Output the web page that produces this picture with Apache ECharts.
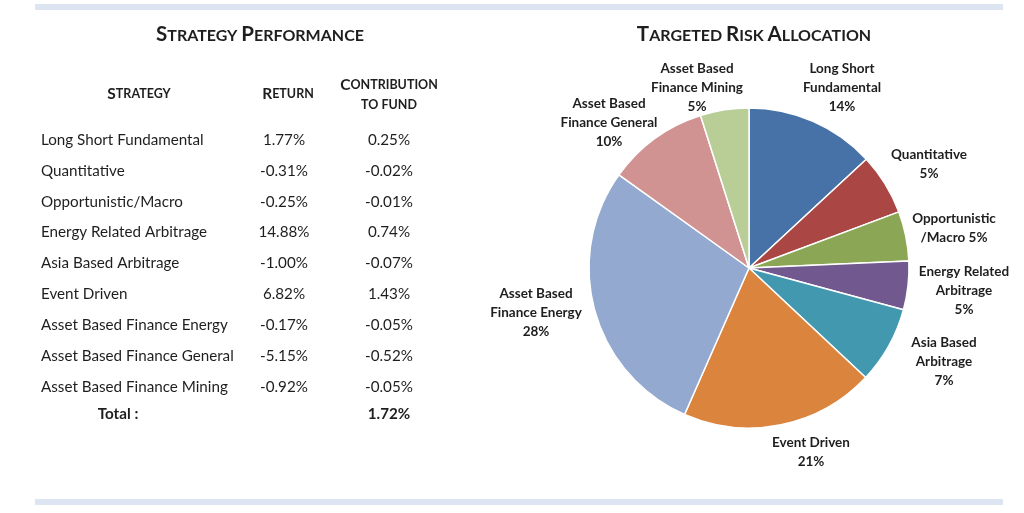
<!DOCTYPE html>
<html><head><meta charset="utf-8">
<script src="https://cdn.jsdelivr.net/npm/echarts@6/dist/echarts.min.js"></script>
<style>html,body{margin:0;background:#fff}#c{width:1024px;height:513px}</style>
</head><body><div id="c"></div>
<script>
// ---- data ----
const strategies = ['Long Short Fundamental','Quantitative','Opportunistic/Macro','Energy Related Arbitrage','Asia Based Arbitrage','Event Driven','Asset Based Finance Energy','Asset Based Finance General','Asset Based Finance Mining'];
const returnsPct = ['1.77%','-0.31%','-0.25%','14.88%','-1.00%','6.82%','-0.17%','-5.15%','-0.92%'];
const contributionPct = ['0.25%','-0.02%','-0.01%','0.74%','-0.07%','1.43%','-0.05%','-0.52%','-0.05%'];
const totalContribution = '1.72%';
// pie slice shares as drawn, and the percentages printed on the labels
const allocationShare = [13.1, 6.2, 5.0, 4.9, 7.8, 19.6, 28.3, 10.2, 4.9];
const allocationPrinted = ['14%','5%','5%','5%','7%','21%','28%','10%','5%'];
const pieLabelNames = ['Long Short\nFundamental','Quantitative','Opportunistic\n/Macro','Energy Related\nArbitrage','Asia Based\nArbitrage','Event Driven','Asset Based\nFinance Energy','Asset Based\nFinance General','Asset Based\nFinance Mining'];
const sliceColors = ['#4672A8','#AA4744','#8BA654','#71588F','#4298AF','#DB843D','#93A9CF','#D19392','#B9CD96'];

// ---- layout ----
const FONT = 'Lato, "Open Sans", sans-serif';
const TXT = '#1e1e1e';
const labelPos = [[842,88],[929,164],[954,228],[964,291],[944,362],[811,452],[536,313],[609,123],[697,88]];
const inlineSameLine = [false,false,true,false,false,false,false,false,false];

function smallCaps(str){
  const runs=[];
  for (const ch of str){
    const isBig = ch!==' ' && ch===ch.toUpperCase() && ch!==ch.toLowerCase();
    const t = isBig?'b':'s';
    const c = ch.toUpperCase();
    if (runs.length && runs[runs.length-1].t===t) runs[runs.length-1].s+=c;
    else runs.push({t, s:c});
  }
  return runs.map(r=>'{'+r.t+'|'+r.s+'}').join('');
}
function scText(str, x, y, big, small){
  return {type:'text', x, y, silent:true, style:{
    text: smallCaps(str), fill: TXT, align:'center', textAlign:'center', verticalAlign:'middle', textVerticalAlign:'middle',
    rich:{ b:{fontFamily:FONT, fontWeight:'bold', fontSize:big, fill:TXT, color:TXT, lineHeight:big+2, verticalAlign:'bottom'},
           s:{fontFamily:FONT, fontWeight:'bold', fontSize:small, fill:TXT, color:TXT, lineHeight:big+2, verticalAlign:'bottom', padding:[0,0,1,0]} } }};
}
function plain(str, x, y, align, bold){
  return {type:'text', x, y, silent:true, style:{
    text:str, fill:TXT, font:(bold?'bold ':'')+'15.2px '+FONT, align, textAlign:align, verticalAlign:'middle', textVerticalAlign:'middle'}};
}

const g = [];
g.push({type:'rect', silent:true, shape:{x:35,y:4,width:968,height:6}, style:{fill:'#DCE5F1'}});
g.push({type:'rect', silent:true, shape:{x:35,y:499,width:968,height:6}, style:{fill:'#DCE5F1'}});
g.push(scText('Strategy Performance', 260, 34, 20.5, 16));
g.push(scText('Targeted Risk Allocation', 754, 34, 20.5, 16));
g.push(scText('Strategy', 139, 93, 15.5, 12.5));
g.push(scText('Return', 288, 93, 15.5, 12.5));
g.push(scText('Contribution', 389, 84, 15.5, 12.5));
g.push(scText('to fund', 389, 104, 15.5, 12.5));
strategies.forEach((s,i)=>{
  const y = 140 + i*30.85;
  g.push(plain(s, 41, y, 'left', false));
  g.push(plain(returnsPct[i], 284, y, 'center', false));
  g.push(plain(contributionPct[i], 389, y, 'center', false));
});
g.push(plain('Total :', 118, 414, 'center', true));
g.push(plain(totalContribution, 389, 414, 'center', true));

const chart = echarts.init(document.getElementById('c'), null, {renderer:'canvas'});
chart.setOption({
  animation:false,
  graphic: g,
  series:[{
    type:'pie', center:[749,268], radius:160, startAngle:90, clockwise:true, silent:true,
    data: strategies.map((n,i)=>({name:n, value:allocationShare[i], itemStyle:{color:sliceColors[i]}})),
    itemStyle:{borderColor:'#ffffff', borderWidth:1.5},
    label:{show:true, position:'outside', overflow:'none', fontFamily:FONT, fontWeight:'bold', fontSize:13.5, lineHeight:19, color:TXT, align:'center',
      formatter: p => pieLabelNames[p.dataIndex] + (inlineSameLine[p.dataIndex] ? ' ' : '\n') + allocationPrinted[p.dataIndex]},
    labelLine:{show:false},
    labelLayout: p => ({x:labelPos[p.dataIndex][0], y:labelPos[p.dataIndex][1], align:'center', verticalAlign:'middle'})
  }]
});
</script></body></html>
